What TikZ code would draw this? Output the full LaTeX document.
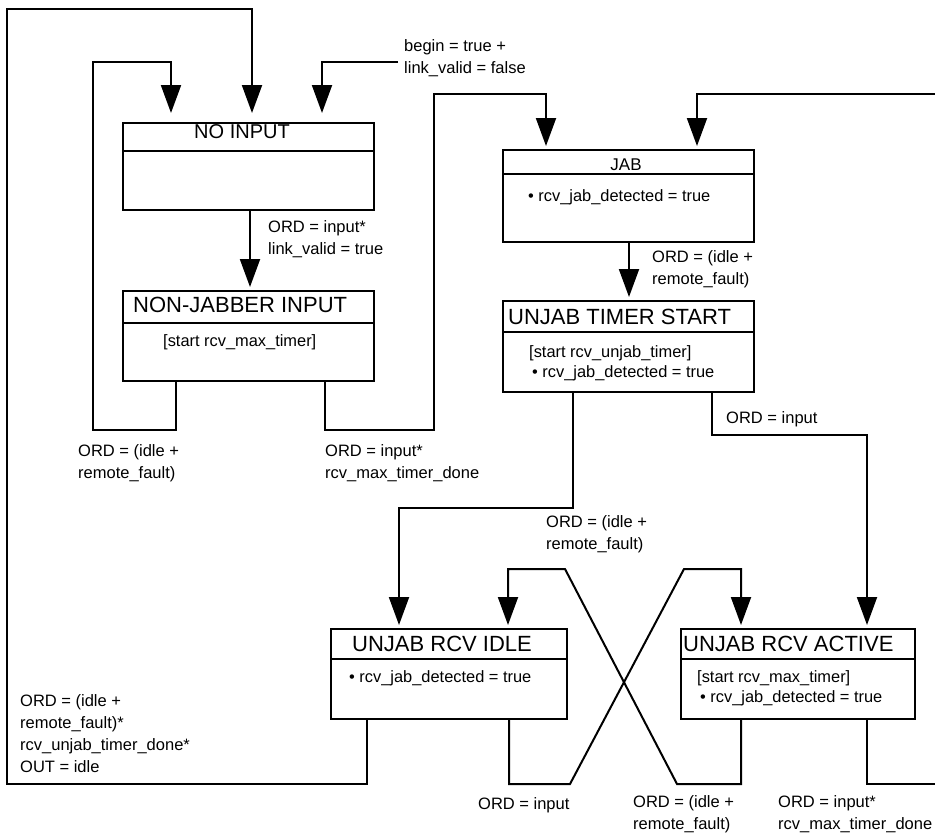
\documentclass[tikz,border=0pt]{standalone}
\usepackage{fontspec}
\setmainfont{Liberation Sans}
\usetikzlibrary{arrows.meta}
\tikzset{
  statebox/.style={draw, line width=2pt, anchor=north west, inner sep=0pt},
  stitle/.style={font=\fontsize{22}{26}\selectfont, inner sep=0pt},
  sbody/.style={font=\fontsize{16.4}{20}\selectfont, align=left,
    inner sep=0pt, anchor=west},
  cond/.style={font=\fontsize{16.5}{22}\selectfont, align=left,
    inner sep=0pt, anchor=west},
  wire/.style={line width=2pt},
  arr/.style={wire, -{Triangle[length=28pt,width=20pt]}, shorten >=3pt},
}

\begin{document}
\begin{tikzpicture}[x=1pt,y=-1pt]
  \useasboundingbox (0,0) rectangle (935,835);

  % States
  \node[statebox, minimum width=251pt, minimum height=87pt] (noinput) at (122,122) {};
  \node[statebox, minimum width=251pt, minimum height=90pt] (njin) at (122,290) {};
  \node[statebox, minimum width=251pt, minimum height=92pt] (jab) at (502,149) {};
  \node[statebox, minimum width=251pt, minimum height=91pt] (uts) at (502,300) {};
  \node[statebox, minimum width=236pt, minimum height=90pt] (idle) at (330,628) {};
  \node[statebox, minimum width=234pt, minimum height=90pt] (active) at (680,628) {};

  % title bars
  \draw[wire] ([yshift=-29pt]noinput.north west) -- ([yshift=-29pt]noinput.north east);
  \draw[wire] ([yshift=-33pt]njin.north west) -- ([yshift=-33pt]njin.north east);
  \draw[wire] ([yshift=-25pt]jab.north west) -- ([yshift=-25pt]jab.north east);
  \draw[wire] ([yshift=-32pt]uts.north west) -- ([yshift=-32pt]uts.north east);
  \draw[wire] ([yshift=-31pt]idle.north west) -- ([yshift=-31pt]idle.north east);
  \draw[wire] ([yshift=-31pt]active.north west) -- ([yshift=-31pt]active.north east);

  \node[stitle, font=\fontsize{20}{24}\selectfont] (noinputT)
    at ([xshift=120pt,yshift=-10pt]noinput.north west) {NO INPUT};
  \node[stitle, anchor=west] (njinT)
    at ([xshift=11pt,yshift=-15pt]njin.north west) {NON-JABBER INPUT};
  \node[stitle, font=\fontsize{17}{20}\selectfont] (jabT)
    at ([xshift=124pt,yshift=-16pt]jab.north west) {JAB};
  \node[stitle, anchor=west] (utsT)
    at ([xshift=6pt,yshift=-17pt]uts.north west) {UNJAB TIMER START};
  \node[stitle, anchor=west] (idleT)
    at ([xshift=22pt,yshift=-16pt]idle.north west) {UNJAB RCV IDLE};
  \node[stitle, anchor=west] (activeT)
    at ([xshift=3pt,yshift=-16pt]active.north west) {UNJAB RCV ACTIVE};

  \node[sbody] (njinB) at ([xshift=41pt,yshift=-52pt]njin.north west)
    {[start rcv\_max\_timer]};
  \node[sbody] (jabB) at ([xshift=26pt,yshift=-48pt]jab.north west)
    {• rcv\_jab\_detected = true};
  \node[sbody] (utsB) at ([xshift=27pt,yshift=-63pt]uts.north west)
    {[start rcv\_unjab\_timer]\\\hspace*{3pt}• rcv\_jab\_detected = true};
  \node[sbody] (idleB) at ([xshift=19pt,yshift=-50pt]idle.north west)
    {• rcv\_jab\_detected = true};
  \node[sbody] (activeB) at ([xshift=17pt,yshift=-60pt]active.north west)
    {[start rcv\_max\_timer]\\\hspace*{3pt}• rcv\_jab\_detected = true};

  % Transitions
  \coordinate (begin) at (398,62);
  \coordinate (rtop) at (935,94);
  \coordinate (rbot) at (935,784);

  \draw[arr, shorten >=9pt] ([xshift=37pt]idle.south west) |- (7,784) |- (252,9)
    -- ([xshift=130pt]noinput.north west);
  \node[cond] at (20,734)
    {ORD = (idle +\\remote\_fault)*\\rcv\_unjab\_timer\_done*\\OUT = idle};

  \draw[arr, shorten >=9pt] ([xshift=54pt]njin.south west) |- (93,430) |- (171,62)
    -- ([xshift=49pt]noinput.north west);
  \node[cond] at (78,463) {ORD = (idle +\\remote\_fault)};

  \draw[arr, shorten >=9pt] (begin) -| ([xshift=200pt]noinput.north west);
  \node[cond] at (404,58) {begin = true +\\link\_valid = false};

  \draw[arr] ([xshift=128pt]noinput.south west) -- ([xshift=128pt]njin.north west);
  \node[cond] at (268,239) {ORD = input*\\link\_valid = true};

  \draw[arr] ([xshift=203pt]njin.south west) |- (434,430) |- (546,94)
    -- ([xshift=44pt]jab.north west);
  \node[cond] at (325,463) {ORD = input*\\rcv\_max\_timer\_done};

  \draw[arr] (rtop) -| ([xshift=195pt]jab.north west);

  \draw[arr] ([xshift=127pt]jab.south west) -- ([xshift=127pt]uts.north west);
  \node[cond] at (652,269) {ORD = (idle +\\remote\_fault)};

  \draw[arr] ([xshift=71pt]uts.south west) |- (399,508)
    -- ([xshift=69pt]idle.north west);
  \node[cond] at (546,534) {ORD = (idle +\\remote\_fault)};

  \draw[arr] ([xshift=210pt]uts.south west) |- (867,435)
    -- ([xshift=187pt]active.north west);
  \node[cond] at (726,419) {ORD = input};

  \draw[arr] ([xshift=179pt]idle.south west) -- (509,784) -- (570,784)
    -- (684,569) -- (741,569) -- ([xshift=61pt]active.north west);
  \node[cond] at (478,805) {ORD = input};

  \draw[arr] ([xshift=61pt]active.south west) -- (741,784) -- (677,784)
    -- (565,569) -- (508,569) -- ([xshift=178pt]idle.north west);
  \node[cond] at (633,814) {ORD = (idle +\\remote\_fault)};

  \draw[wire] ([xshift=187pt]active.south west) |- (rbot);
  \node[cond] at (778,814) {ORD = input*\\rcv\_max\_timer\_done};
\end{tikzpicture}
\end{document}
